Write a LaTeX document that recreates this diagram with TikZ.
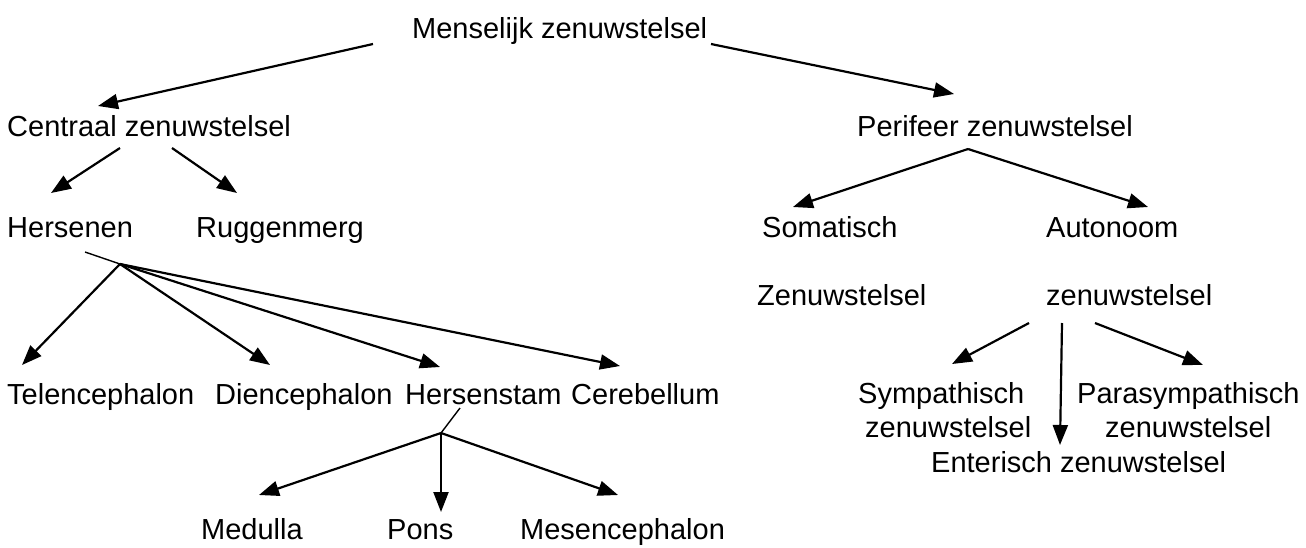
\documentclass[tikz,border=0pt]{standalone}
\usepackage{fontspec}
\setmainfont{Liberation Sans}
\usetikzlibrary{arrows.meta}
\begin{document}
\begin{tikzpicture}[x=1pt,y=-1pt,
  lbl/.style={inner sep=0pt,anchor=base west,font=\fontsize{29}{34}\selectfont},
  arr/.style={line width=2.2pt,-{Triangle[length=20pt,width=15pt]}},
  thin/.style={line width=1.4pt}]
\useasboundingbox (0,0) rectangle (1306,547);
% texts
\node[lbl] (mz) at (412,38) {Menselijk zenuwstelsel};
\node[lbl] (cz) at (7,136) {Centraal zenuwstelsel};
\node[lbl] (pz) at (857,136) {Perifeer zenuwstelsel};
\node[lbl] (hers) at (7,237) {Hersenen};
\node[lbl] (rug) at (196,237) {Ruggenmerg};
\node[lbl] (som) at (762,237) {Somatisch};
\node[lbl] (aut) at (1046,237) {Autonoom};
\node[lbl] (somz) at (757,305) {Zenuwstelsel};
\node[lbl] (autz) at (1046,305) {zenuwstelsel};
\node[lbl] (tel) at (7,404) {Telencephalon};
\node[lbl] (dien) at (215,404) {Diencephalon};
\node[lbl] (hst) at (405,404) {Hersenstam};
\node[lbl] (cer) at (571,404) {Cerebellum};
\node[lbl] (med) at (201,539) {Medulla};
\node[lbl] (pons) at (387,539) {Pons};
\node[lbl] (mes) at (520,539) {Mesencephalon};
\node[lbl] (sym) at (858,403) {Sympathisch};
\node[lbl] (symz) at (865,437) {zenuwstelsel};
\node[lbl] (para) at (1077,403) {Parasympathisch};
\node[lbl] (paraz) at (1105,437) {zenuwstelsel};
\node[lbl] (ent) at (931,472) {Enterisch zenuwstelsel};
% connector points
\coordinate (mz-l) at (373,44);
\coordinate (mz-r) at (711,44);
\coordinate (cz-t) at (98,106);
\coordinate (pz-t) at (954,94);
\coordinate (cz-l) at (120,148);
\coordinate (cz-r) at (172,148);
\coordinate (hers-t) at (51,193);
\coordinate (rug-t) at (237,193);
\coordinate (pz-b) at (968,149);
\coordinate (som-t) at (793,207);
\coordinate (aut-t) at (1148,207);
\coordinate (hers-b) at (85,252);
\coordinate (hub1) at (120,264);
\coordinate (tel-t) at (22,365);
\coordinate (dien-t) at (270,365);
\coordinate (hst-t) at (440,367);
\coordinate (cer-t) at (620,366);
\coordinate (hst-b) at (460,408);
\coordinate (hub2) at (441,433);
\coordinate (med-t) at (259,495);
\coordinate (pons-t) at (441,512);
\coordinate (mes-t) at (618,495);
\coordinate (autz-l) at (1029,323);
\coordinate (autz-m) at (1062,323);
\coordinate (autz-r) at (1095,323);
\coordinate (sym-t) at (952,364);
\coordinate (ent-t) at (1060,445);
\coordinate (para-t) at (1203,365);
% connectors
\draw[arr] (mz-l) -- (cz-t);
\draw[arr] (mz-r) -- (pz-t);
\draw[arr] (cz-l) -- (hers-t);
\draw[arr] (cz-r) -- (rug-t);
\draw[arr] (pz-b) -- (som-t);
\draw[arr] (pz-b) -- (aut-t);
\draw[thin] (hers-b) -- (hub1);
\draw[arr] (hub1) -- (tel-t);
\draw[arr] (hub1) -- (dien-t);
\draw[arr] (hub1) -- (hst-t);
\draw[arr] (hub1) -- (cer-t);
\draw[thin] (hst-b) -- (hub2);
\draw[arr] (hub2) -- (med-t);
\draw[arr] (hub2) -- (pons-t);
\draw[arr] (hub2) -- (mes-t);
\draw[arr] (autz-l) -- (sym-t);
\draw[arr] (autz-m) -- (ent-t);
\draw[arr] (autz-r) -- (para-t);
\end{tikzpicture}
\end{document}
